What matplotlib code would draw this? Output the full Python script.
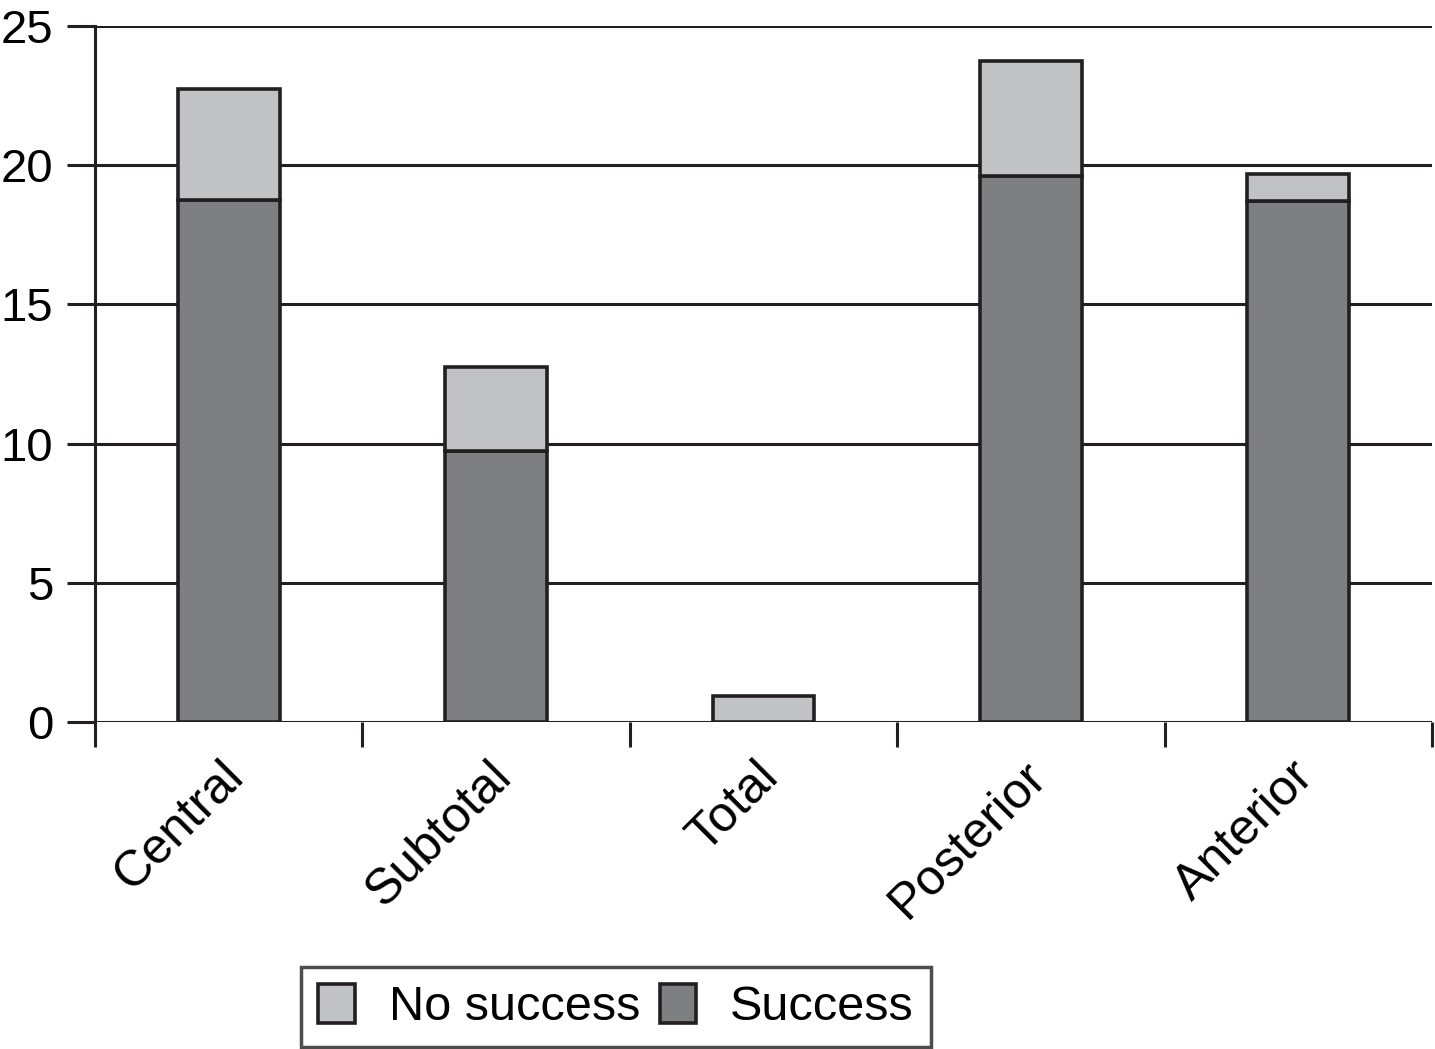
import numpy as np
from matplotlib import pyplot as plt

# --- Datos ---
categorias = ["Central", "Subtotal", "Total", "Posterior", "Anterior"]
exito = [18.75, 9.75, 0.0, 19.6, 18.7]
sin_exito = [4.0, 3.0, 0.95, 4.15, 1.0]
yticks = [0, 5, 10, 15, 20, 25]

c_claro = "#c0c2c4"
c_oscuro = "#7e7f83"
borde = "#231f20"

plt.rcParams["font.family"] = ["Liberation Sans", "DejaVu Sans"]

fig = plt.figure(figsize=(14.35, 10.49), dpi=100)
ax = fig.add_axes([95 / 1435, 1 - 722 / 1049, (1432 - 95) / 1435, (722 - 26) / 1049])

x = np.arange(len(categorias))
w = 0.38
b1 = ax.bar(x, exito, w, color=c_oscuro, edgecolor=borde, linewidth=2.6, zorder=3, label="Success")
b2 = ax.bar(x, sin_exito, w, bottom=exito, color=c_claro, edgecolor=borde, linewidth=2.6, zorder=3, label="No success")

# Lineas horizontales (grid)
for t in yticks:
    ax.axhline(t, color=borde, lw=2.2, zorder=1)

ax.set_xlim(-0.5, len(categorias) - 0.5)
ax.set_ylim(0, 25)
ax.set_yticks(yticks)
ax.tick_params(axis="y", direction="out", length=20, width=2.2, color=borde,
               labelsize=34, pad=10)

# ticks del eje x en los limites de las categorias
ax.set_xticks(np.arange(-0.5, len(categorias), 1.0))
ax.set_xticklabels([])
ax.tick_params(axis="x", direction="out", length=18, width=2.2, color=borde)
for xi, nombre in zip(x, categorias):
    ax.annotate(nombre, (xi, 0), xycoords=("data", "axes fraction"),
                xytext=(-6, -22), textcoords="offset points",
                rotation=45, ha="right", va="top", rotation_mode="anchor", fontsize=36)

for s in ["top", "right", "bottom"]:
    ax.spines[s].set_visible(False)
ax.spines["left"].set_linewidth(2.2)
ax.spines["left"].set_color(borde)
ax.spines["left"].set_bounds(0, 25)

leg = fig.legend([b2, b1], ["No success", "Success"], ncol=2, loc="center",
                 bbox_to_anchor=(616 / 1435, 1 - 1007 / 1049), fontsize=35,
                 frameon=True, fancybox=False, handlelength=0.75, handleheight=0.85,
                 handletextpad=0.7, columnspacing=0.4, borderpad=0.35)
leg.get_frame().set_edgecolor(borde)
leg.get_frame().set_linewidth(2.5)

fig.savefig("out.png", dpi=100)
